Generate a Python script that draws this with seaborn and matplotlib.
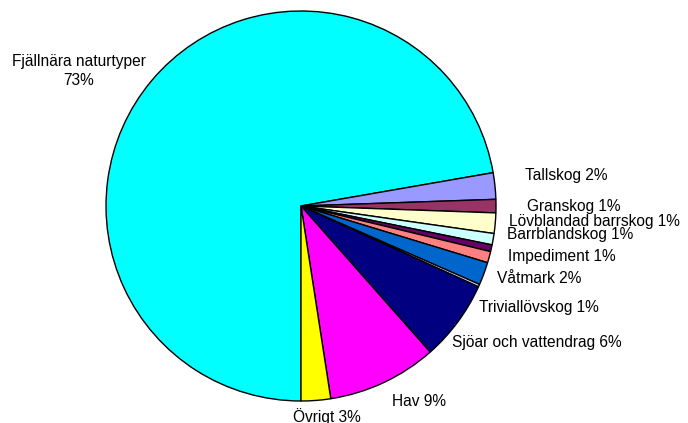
import matplotlib
matplotlib.use("Agg")
import matplotlib.pyplot as plt
import seaborn as sns

sns.set_theme(style="white")
plt.rcParams['font.family'] = ['Liberation Sans', 'DejaVu Sans']

# Data (share of area, percent), clockwise from 6 o'clock
categories = ["Fjällnära naturtyper", "Tallskog", "Granskog", "Lövblandad barrskog",
              "Barrblandskog", "", "Impediment", "Våtmark", "Triviallövskog",
              "Sjöar och vattendrag", "Hav", "Övrigt"]
values = [72.25, 2.19, 1.11, 1.69, 0.94, 0.56, 0.94, 1.89, 0.22, 6.67, 9.08, 2.44]
label_texts = ["Fjällnära naturtyper\n73%", "Tallskog 2%", "Granskog 1%",
               "Lövblandad barrskog 1%", "Barrblandskog 1%", "", "Impediment 1%",
               "Våtmark 2%", "Triviallövskog 1%", "Sjöar och vattendrag 6%",
               "Hav 9%", "Övrigt 3%"]
colors = ["#00FFFF", "#9999FF", "#993366", "#FFFFCC", "#CCFFFF", "#660066",
          "#FF8080", "#0066CC", "#CCCCFF", "#000080", "#FF00FF", "#FFFF00"]

# label placement (pixel positions in the 688x423 image): (x, y, ha)
label_pos = [(79, 71, "center"), (525, 175, "left"), (527, 206, "left"),
             (509, 221, "left"), (507, 234, "left"), None, (508, 256, "left"),
             (497, 278, "left"), (479, 307, "left"), (452, 342, "left"),
             (392, 401, "left"), (293, 417, "left")]

W, H = 688, 423
cx, cy, R = 301, 206, 195

fig = plt.figure(figsize=(W / 100, H / 100), dpi=100)
ax = fig.add_axes([0, 0, 1, 1])
ax.pie(values, colors=colors, startangle=270, counterclock=False, radius=1,
       wedgeprops=dict(edgecolor="black", linewidth=1.0))
ax.set_xlim(-cx / R, (W - cx) / R)
ax.set_ylim((cy - H) / R, cy / R)
ax.set_aspect("auto")
ax.axis("off")

for txt, pos in zip(label_texts, label_pos):
    if pos is None or not txt:
        continue
    px, py, ha = pos
    ax.text((px - cx) / R, (cy - py) / R, txt, ha=ha, va="center",
            fontsize=11.2, color="black", linespacing=1.4, multialignment="center")

fig.savefig("out.png", dpi=100, facecolor="white")
